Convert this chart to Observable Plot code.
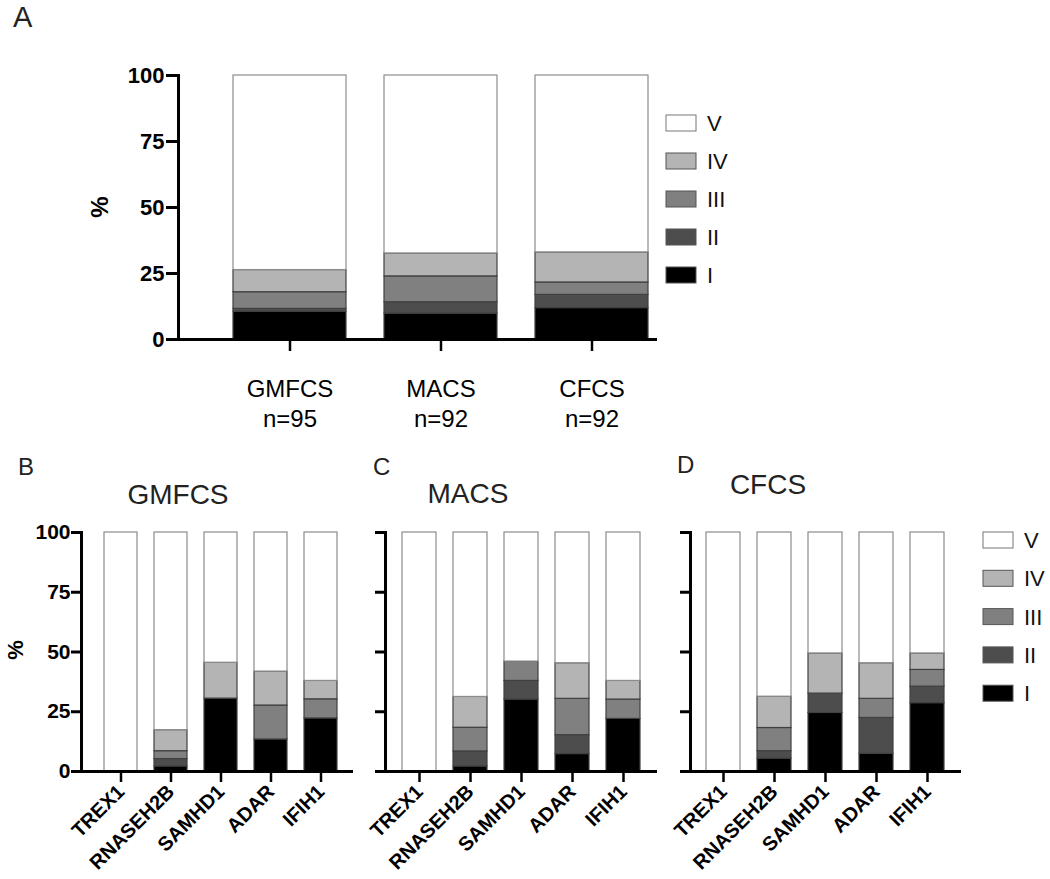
<!DOCTYPE html>
<html>
<head>
<meta charset="utf-8">
<script src="https://cdn.jsdelivr.net/npm/d3@7"></script>
<script src="https://cdn.jsdelivr.net/npm/@observablehq/plot@0.6"></script>
<style>
  html, body { margin: 0; padding: 0; background: #fff; }
  #root { position: relative; width: 1050px; height: 879px; font-family: "Liberation Sans", Arial, sans-serif; }
  .panel { position: absolute; }
  #overlay { position: absolute; left: 0; top: 0; pointer-events: none; }
</style>
</head>
<body>
<div id="root">
  <div class="panel" id="pA" style="left:0;top:0"></div>
  <div class="panel" id="pB" style="left:0;top:440px"></div>
  <div class="panel" id="pC" style="left:360px;top:440px"></div>
  <div class="panel" id="pD" style="left:665px;top:440px"></div>
</div>
<script>
// ---------- data ----------
const levels = ["I", "II", "III", "IV", "V"];
const levelColors = ["#000000", "#4d4d4d", "#808080", "#b4b4b4", "#ffffff"];

// Panel A
const scalesA = ["GMFCS", "MACS", "CFCS"];
const nA = [95, 92, 92];
const A_I   = [10.5, 9.8, 11.9];
const A_II  = [1.1, 4.3, 5.0];
const A_III = [6.3, 9.8, 4.7];
const A_IV  = [8.4, 8.7, 11.4];
const A_V   = [73.7, 67.4, 67.0];

// Panels B-D
const genes = ["TREX1", "RNASEH2B", "SAMHD1", "ADAR", "IFIH1"];
// B: GMFCS
const B_I   = [0, 2.1, 30.5, 13.4, 22.2];
const B_II  = [0, 3.1, 0, 0, 0];
const B_III = [0, 3.3, 0, 14.2, 8.0];
const B_IV  = [0, 8.8, 15.0, 14.2, 7.7];
const B_V   = [100, 82.7, 54.5, 58.2, 62.1];
// C: MACS
const C_I   = [0, 2.1, 30.1, 7.3, 22.0];
const C_II  = [0, 6.3, 7.8, 7.9, 0];
const C_III = [0, 9.9, 8.1, 15.2, 8.1];
const C_IV  = [0, 12.9, 0, 14.9, 7.8];
const C_V   = [100, 68.8, 54.0, 54.7, 62.1];
// D: CFCS
const D_I   = [0, 5.4, 24.5, 7.4, 28.6];
const D_II  = [0, 3.1, 8.1, 15.0, 6.9];
const D_III = [0, 9.7, 0, 8.0, 7.0];
const D_IV  = [0, 13.1, 16.8, 14.9, 6.9];
const D_V   = [100, 68.7, 50.6, 54.7, 50.6];

const yTicks = [0, 25, 50, 75, 100];

function toRows(cats, series) {
  const rows = [];
  cats.forEach((c, i) => {
    levels.forEach((lv, j) => {
      const v = series[j][i];
      if (v > 0) rows.push({cat: c, level: lv, value: v});
    });
  });
  return rows;
}
const fillOf = d => levelColors[levels.indexOf(d.level)];
const strokeOf = d => d.level === "V" ? "#8c8c8c" : "#404040";

// ---------- Panel A ----------
const rowsA = toRows(scalesA, [A_I, A_II, A_III, A_IV, A_V]);
const plotA = Plot.plot({
  width: 660, height: 440,
  marginLeft: 178, marginRight: 3, marginTop: 75, marginBottom: 101,
  style: {fontFamily: "'Liberation Sans', Arial, sans-serif", color: "#000", background: "transparent"},
  x: {domain: scalesA, range: [233, 649], paddingInner: 0.25, paddingOuter: 0},
  y: {domain: [0, 100]},
  marks: [
    Plot.barY(rowsA, {x: "cat", y: "value", z: "level", fill: fillOf, stroke: strokeOf, strokeWidth: 1.2}),
    Plot.ruleY([0], {strokeWidth: 3}),
    Plot.frame({anchor: "left", strokeWidth: 3}),
    Plot.axisY({ticks: yTicks, tickSize: 12, tickPadding: 2, strokeWidth: 3, fontSize: 22, fontWeight: "bold", label: null}),
    Plot.axisX({tickSize: 12, tickPadding: 24, strokeWidth: 2.5, fontSize: 24, lineHeight: 1.25, label: null,
      tickFormat: d => d + "\nn=" + nA[scalesA.indexOf(d)]})
  ]
});
document.getElementById("pA").appendChild(plotA);

// ---------- Panels B-D ----------
function genePanel(series, opts) {
  const rows = toRows(genes, series);
  return Plot.plot({
    width: opts.width, height: 439,
    marginLeft: opts.marginLeft, marginRight: opts.marginRight, marginTop: 92, marginBottom: 108,
    style: {fontFamily: "'Liberation Sans', Arial, sans-serif", color: "#000", background: "transparent", overflow: "visible"},
    x: {domain: genes, range: opts.range, paddingInner: 0.333, paddingOuter: 0},
    y: {domain: [0, 100]},
    marks: [
      Plot.barY(rows, {x: "cat", y: "value", z: "level", fill: fillOf, stroke: strokeOf, strokeWidth: 1.2}),
      Plot.ruleY([0], {strokeWidth: 3}),
      Plot.frame({anchor: "left", strokeWidth: 3}),
      Plot.axisY({ticks: yTicks, tickSize: 10, tickPadding: 1, strokeWidth: 3, fontSize: 21, fontWeight: "bold", label: null,
        tickFormat: opts.showY ? (d => String(d)) : (() => "")}),
      Plot.axisX({tickSize: 11, tickPadding: 6, tickRotate: -45, strokeWidth: 2.5, fontSize: 20, fontWeight: "bold", label: null})
    ]
  });
}
document.getElementById("pB").appendChild(genePanel([B_I, B_II, B_III, B_IV, B_V],
  {width: 360, marginLeft: 81, marginRight: 7, range: [102, 340], showY: true}));
document.getElementById("pC").appendChild(genePanel([C_I, C_II, C_III, C_IV, C_V],
  {width: 305, marginLeft: 25, marginRight: 8, range: [42, 281], showY: false}));
document.getElementById("pD").appendChild(genePanel([D_I, D_II, D_III, D_IV, D_V],
  {width: 385, marginLeft: 25, marginRight: 89, range: [41, 280], showY: false}));

// ---------- annotations: letters, titles, axis labels, legends ----------
const svg = d3.select("#root").append("svg").attr("id", "overlay")
  .attr("width", 1050).attr("height", 879)
  .style("font-family", "'Liberation Sans', Arial, sans-serif");

const letters = [
  {t: "A", x: 13, y: 27, s: 29},
  {t: "B", x: 18, y: 475, s: 24},
  {t: "C", x: 373, y: 475, s: 24},
  {t: "D", x: 677, y: 473, s: 24}
];
svg.selectAll("text.letter").data(letters).join("text").attr("class", "letter")
  .attr("x", d => d.x).attr("y", d => d.y).attr("font-size", d => d.s).attr("fill", "#222").text(d => d.t);

const titles = [
  {t: "GMFCS", x: 178, y: 504},
  {t: "MACS", x: 468, y: 503},
  {t: "CFCS", x: 768, y: 494}
];
svg.selectAll("text.title").data(titles).join("text").attr("class", "title")
  .attr("x", d => d.x).attr("y", d => d.y).attr("text-anchor", "middle").attr("font-size", 28).attr("fill", "#222").text(d => d.t);

const yLabels = [{x: 100, y: 207, s: 24}, {x: 15, y: 650, s: 22}];
svg.selectAll("text.ylab").data(yLabels).join("text").attr("class", "ylab")
  .attr("transform", d => `translate(${d.x},${d.y}) rotate(-90)`)
  .attr("text-anchor", "middle").attr("dy", "0.35em").attr("font-weight", "bold").attr("font-size", d => d.s).text("%");

function legend(x0, yTop, step) {
  const g = svg.append("g");
  const items = levels.slice().reverse();
  items.forEach((lv, i) => {
    const cy = yTop + i * step;
    g.append("rect").attr("x", x0).attr("y", cy - 8).attr("width", 30).attr("height", 16)
      .attr("fill", levelColors[levels.indexOf(lv)]).attr("stroke", lv === "V" ? "#777" : "#555").attr("stroke-width", 1);
    g.append("text").attr("x", x0 + 41).attr("y", cy).attr("dy", "0.36em")
      .attr("font-size", 22).attr("fill", "#111").text(lv);
  });
}
legend(666, 123, 38);
legend(983, 540, 38.3);
</script>
</body>
</html>
